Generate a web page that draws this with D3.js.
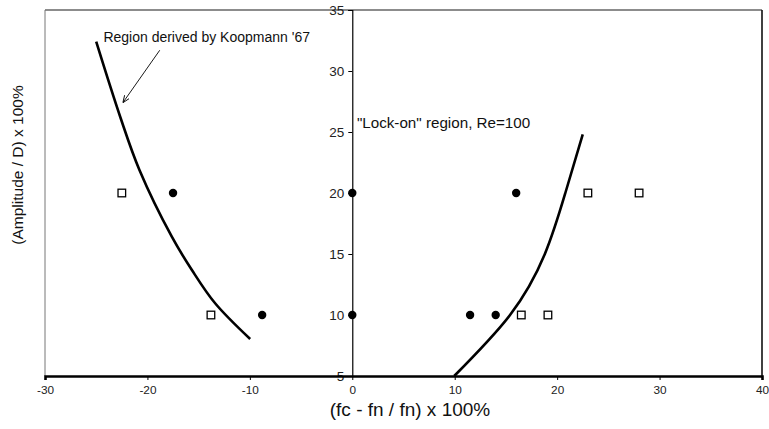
<!DOCTYPE html>
<html>
<head>
<meta charset="utf-8">
<script src="https://cdn.jsdelivr.net/npm/d3@7"></script>
<style>
  html, body { margin: 0; padding: 0; background: #fff; }
  svg { display: block; font-family: "Liberation Sans", Arial, Helvetica, sans-serif; }
</style>
</head>
<body>
<svg id="chart" width="769" height="429"></svg>
<script>
// Axis ticks
const xTicks = [-30, -20, -10, 0, 10, 20, 30, 40];
const yTicks = [5, 10, 15, 20, 25, 30, 35];

// Measured cases: lock-on (filled circles) and no lock-on (open squares)
const lockX = [-17.5, -8.8, 0, 0, 16, 11.5, 14];
const lockY = [20, 10, 20, 10, 20, 10, 10];
const freeX = [-22.5, -13.8, 23, 28, 16.5, 19.1];
const freeY = [20, 10, 20, 20, 10, 10];

// Lock-on boundary derived by Koopmann '67 (left and right branches)
const leftBoundX = [-25.0, -22.66, -20.78, -17.62, -15.66, -13.39, -9.97];
const leftBoundY = [32.4, 26.25, 21.89, 16.42, 13.69, 10.96, 8.03];
const rightBoundX = [9.95, 15.4, 18.8, 20.8, 22.5];
const rightBoundY = [5.0, 10.0, 15.0, 20.0, 24.8];

const svg = d3.select("#chart");
const x = d3.scaleLinear().domain([-30, 40]).range([45, 762]);
const y = d3.scaleLinear().domain([5, 35]).range([376, 10]);
const plain = d => String(d);

// Plot frame
svg.append("line").attr("x1", x(-30)).attr("x2", x(40)).attr("y1", y(35)).attr("y2", y(35))
  .attr("stroke", "#666").attr("stroke-width", 1.6);
svg.append("line").attr("x1", x(-30)).attr("x2", x(-30)).attr("y1", y(35)).attr("y2", y(5))
  .attr("stroke", "#777").attr("stroke-width", 1);
svg.append("line").attr("x1", x(40)).attr("x2", x(40)).attr("y1", y(35)).attr("y2", y(5))
  .attr("stroke", "#111").attr("stroke-width", 1.6);

// Y axis through x = 0
const yAxis = d3.axisLeft(y).tickValues(yTicks).tickFormat(plain).tickSize(4).tickPadding(4);
const gy = svg.append("g").attr("transform", `translate(${x(0)},0)`).call(yAxis);
gy.select(".domain").attr("stroke", "#000").attr("stroke-width", 1.2);
gy.selectAll(".tick line").attr("stroke", "#000");
gy.selectAll(".tick text").attr("font-size", 13.5).attr("fill", "#222")
  .attr("font-family", "'Liberation Sans', Arial, sans-serif");

// X axis along the bottom
const xAxis = d3.axisBottom(x).tickValues(xTicks).tickFormat(plain).tickSize(4).tickPadding(6);
const gx = svg.append("g").attr("transform", `translate(0,${y(5)})`).call(xAxis);
gx.select(".domain").attr("stroke", "#000").attr("stroke-width", 2.6);
gx.selectAll(".tick line").attr("stroke", "#000");
gx.selectAll(".tick text").attr("font-size", 11.8).attr("fill", "#222")
  .attr("font-family", "'Liberation Sans', Arial, sans-serif");

// Boundary curves
const leftLine = d3.line().x(d => x(d[0])).y(d => y(d[1])).curve(d3.curveCatmullRom.alpha(0.5));
const rightLine = d3.line().x(d => x(d[0])).y(d => y(d[1])).curve(d3.curveNatural);
[[leftBoundX, leftBoundY, leftLine], [rightBoundX, rightBoundY, rightLine]].forEach(([xs, ys, gen]) => {
  svg.append("path").datum(xs.map((v, i) => [v, ys[i]]))
    .attr("d", gen).attr("fill", "none").attr("stroke", "#000").attr("stroke-width", 2.6);
});

// Markers
svg.append("g").selectAll("circle").data(lockX.map((v, i) => [v, lockY[i]])).join("circle")
  .attr("cx", d => x(d[0])).attr("cy", d => y(d[1])).attr("r", 4.2).attr("fill", "#000");
svg.append("g").selectAll("rect").data(freeX.map((v, i) => [v, freeY[i]])).join("rect")
  .attr("x", d => x(d[0]) - 3.8).attr("y", d => y(d[1]) - 3.8)
  .attr("width", 7.6).attr("height", 7.6)
  .attr("fill", "#fff").attr("stroke", "#000").attr("stroke-width", 1.3);

// Annotation with arrow
svg.append("defs").append("marker").attr("id", "arrowhead")
  .attr("viewBox", "0 0 10 10").attr("refX", 10).attr("refY", 5)
  .attr("markerWidth", 8).attr("markerHeight", 8).attr("orient", "auto")
  .append("path").attr("d", "M0,1 L10,5 L0,9").attr("fill", "none").attr("stroke", "#000").attr("stroke-width", 1.2);
svg.append("line").attr("x1", x(-18.8)).attr("y1", y(31.7)).attr("x2", x(-22.4)).attr("y2", y(27.4))
  .attr("stroke", "#000").attr("stroke-width", 0.9).attr("marker-end", "url(#arrowhead)");
svg.append("text").attr("x", x(-24.3)).attr("y", y(32.4)).attr("font-size", 14).attr("fill", "#111")
  .text("Region derived by Koopmann '67");
svg.append("text").attr("x", x(0.45)).attr("y", y(25.3)).attr("font-size", 15.2).attr("fill", "#111")
  .text("\"Lock-on\" region, Re=100");

// Axis titles
svg.append("text").attr("x", 410).attr("y", 416).attr("text-anchor", "middle")
  .attr("font-size", 19).attr("fill", "#111").text("(fc - fn / fn) x 100%");
svg.append("text").attr("transform", "translate(23,165) rotate(-90)").attr("text-anchor", "middle")
  .attr("font-size", 15.5).attr("fill", "#111").text("(Amplitude / D) x 100%");
</script>
</body>
</html>
